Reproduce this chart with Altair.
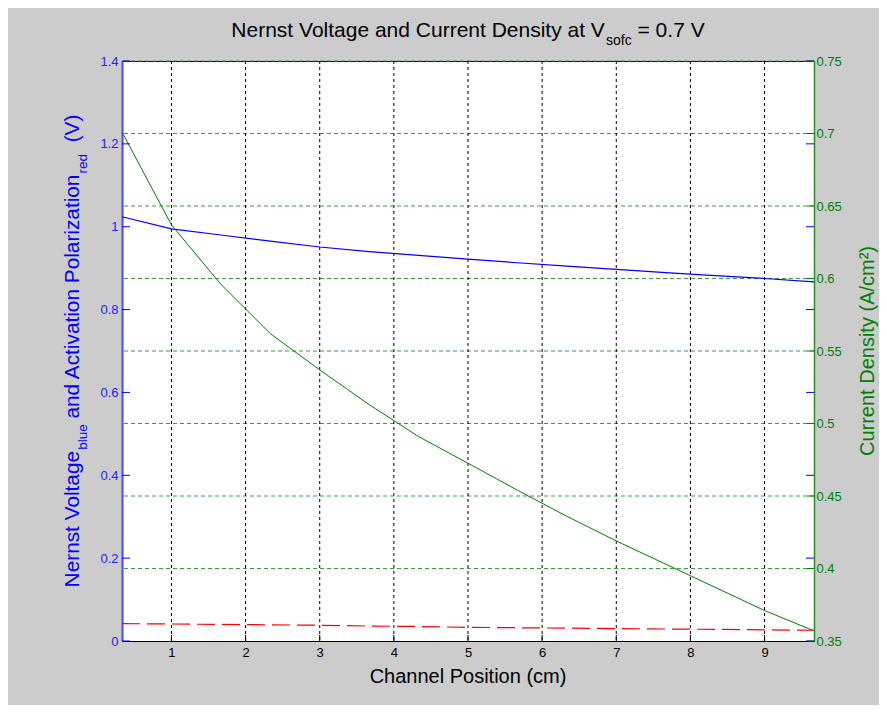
import altair as alt
import pandas as pd

# ---------------- data ----------------
position_cm = [0.333, 1.0, 1.667, 2.333, 3.0, 3.667, 4.333, 5.0, 5.667, 6.333, 7.0, 7.667, 8.333, 9.0, 9.667]
nernst_voltage = [1.024, 0.995, 0.980, 0.965, 0.951, 0.940, 0.931, 0.922, 0.913, 0.905, 0.897, 0.889, 0.882, 0.875, 0.867]
activation_pol = [0.042, 0.041, 0.040, 0.039, 0.038, 0.036, 0.035, 0.033, 0.032, 0.031, 0.030, 0.029, 0.028, 0.027, 0.026]
current_density = [0.701, 0.637, 0.596, 0.562, 0.537, 0.513, 0.491, 0.4726, 0.454, 0.436, 0.419, 0.403, 0.387, 0.371, 0.357]

x_ticks = [1, 2, 3, 4, 5, 6, 7, 8, 9]
left_ticks = [0, 0.2, 0.4, 0.6, 0.8, 1, 1.2, 1.4]
right_ticks = [0.35, 0.4, 0.45, 0.5, 0.55, 0.6, 0.65, 0.7, 0.75]

title_main = "Nernst Voltage and Current Density at V"
title_sub = "sofc"
title_end = "= 0.7 V"
left_parts = ["Nernst Voltage", "blue", "and Activation Polarization", "red", "(V)"]
right_title = "Current Density (A/cm²)"
x_title = "Channel Position (cm)"

# ---------------- layout / style ----------------
FONT = "Liberation Sans"
W, H = 692, 580
BLUE = "#0000ff"
GREEN = "#008000"

# Helvetica/Arial advance widths (per 1000 em) for placing text segments
AW = {' ': 278, '(': 333, ')': 333, '/': 278, '.': 278, '=': 584, 'A': 667, 'C': 722, 'D': 722,
      'N': 722, 'P': 667, 'V': 667, 'a': 556, 'b': 556, 'c': 500, 'd': 556, 'e': 556, 'f': 278,
      'g': 556, 'h': 556, 'i': 222, 'l': 222, 'm': 833, 'n': 556, 'o': 556, 'r': 333, 's': 500,
      't': 278, 'u': 556, 'v': 500, 'y': 500, 'z': 500, '²': 333}


def tw(s, size):
    return sum(AW.get(ch, 556) for ch in s) * size / 1000.0


xs = alt.Scale(domain=[position_cm[0], position_cm[-1]], nice=False, zero=False)
ls = alt.Scale(domain=[0, 1.4], nice=False, zero=False)
rs = alt.Scale(domain=[0.35, 0.75], nice=False, zero=False)

x_axis = alt.Axis(values=x_ticks, format="~g", ticks=False, grid=False, domainColor="black",
                  domainWidth=1, labelColor="black", labelFontSize=13, labelFont=FONT,
                  labelPadding=5, labelOverlap=False, title=None)
left_axis = alt.Axis(orient="left", values=left_ticks, format="~g", ticks=False, grid=False,
                     domainColor="#4a4aff", domainWidth=2, labelColor="#2020ff", labelFontSize=13,
                     labelFont=FONT, labelPadding=4, labelOverlap=False, title=None)
right_axis = alt.Axis(orient="right", values=right_ticks, format="~g", ticks=False, grid=False,
                      domainColor="#2e8b2e", domainWidth=1.5, labelColor=GREEN, labelFontSize=13,
                      labelFont=FONT, labelPadding=2, labelOverlap=False, title=None)

curves = pd.DataFrame({"x": position_cm, "nernst": nernst_voltage,
                       "act": activation_pol, "cur": current_density})
base = alt.Chart(curves)

hgrid = alt.Chart(pd.DataFrame({"v": right_ticks[1:]})).mark_rule(
    color="#3a9f3a", strokeDash=[4, 3], strokeWidth=1).encode(
    y=alt.Y("v:Q", scale=rs, axis=right_axis))
vgrid = alt.Chart(pd.DataFrame({"x": x_ticks})).mark_rule(
    color="black", strokeDash=[3, 3], strokeWidth=1).encode(
    x=alt.X("x:Q", scale=xs, axis=x_axis))

blue_line = base.mark_line(color=BLUE, strokeWidth=1.2).encode(
    x=alt.X("x:Q", scale=xs, axis=x_axis),
    y=alt.Y("nernst:Q", scale=ls, axis=left_axis))
red_line = base.mark_line(color="#ff0000", strokeWidth=1.2, strokeDash=[18, 7]).encode(
    x=alt.X("x:Q", scale=xs, axis=x_axis),
    y=alt.Y("act:Q", scale=ls, axis=None))
green_line = base.mark_line(color=GREEN, strokeWidth=1).encode(
    x=alt.X("x:Q", scale=xs, axis=x_axis),
    y=alt.Y("cur:Q", scale=rs, axis=None))

lt = alt.Chart(pd.DataFrame({"v": left_ticks}))
ltick_l = lt.mark_rule(color=BLUE).encode(y=alt.Y("v:Q", scale=ls, axis=None),
                                          x=alt.value(0), x2=alt.value(8))
ltick_r = lt.mark_rule(color=BLUE).encode(y=alt.Y("v:Q", scale=ls, axis=None),
                                          x=alt.value(W - 8), x2=alt.value(W))
rtick_r = alt.Chart(pd.DataFrame({"v": right_ticks})).mark_rule(color=GREEN).encode(
    y=alt.Y("v:Q", scale=rs, axis=None), x=alt.value(W - 7), x2=alt.value(W))
xtick = alt.Chart(pd.DataFrame({"x": x_ticks})).mark_rule(color="black").encode(
    x=alt.X("x:Q", scale=xs, axis=x_axis), y=alt.value(H - 6), y2=alt.value(H))

one = pd.DataFrame({"a": [0]})


def txt(s, px, py, size, color="black", angle=0, align="left"):
    return alt.Chart(one).mark_text(text=s, font=FONT, fontSize=size, color=color, angle=angle,
                                    align=align, baseline="alphabetic").encode(
        x=alt.value(px), y=alt.value(py))


texts = []
# title
TF, TS = 21, 14
tw1 = tw(title_main, TF)
tw2 = tw(title_sub, TS)
tw3 = tw(" " + title_end, TF)
tx0 = W / 2 - (tw1 + tw2 + tw3) / 2
texts.append(txt(title_main, tx0, -24, TF))
texts.append(txt(title_sub, tx0 + tw1, -16, TS))
texts.append(txt(title_end, tx0 + tw1 + tw2 + tw(" ", TF), -24, TF))

# left title (vertical, bottom to top)
LF, LS = 20.8, 13.5
segs = [(left_parts[0], LF), (left_parts[1], LS), (" " + left_parts[2], LF),
        (left_parts[3], LS), ("  " + left_parts[4], LF)]
widths = [tw(s, f) for s, f in segs]
ypos = H / 2 + sum(widths) / 2
for (s, f), wdt in zip(segs, widths):
    lead = len(s) - len(s.lstrip(" "))
    off = tw(" " * lead, f)
    bx = -35 if f == LS else -43
    texts.append(txt(s.strip(), bx, ypos - off, f, BLUE, 270))
    ypos -= wdt

# right title
texts.append(txt(right_title, W + 60, H / 2, 20, GREEN, 270, "center"))
# x title
texts.append(txt(x_title, W / 2, H + 42, 20, "black", 0, "center"))

chart = alt.layer(
    hgrid, vgrid, blue_line, red_line, green_line, ltick_l, ltick_r, rtick_r, xtick, *texts
).resolve_scale(y="independent").properties(
    width=W, height=H,
    padding={"left": 114, "top": 53, "right": 65, "bottom": 64},
    autosize=alt.AutoSizeParams(type="none"),
    background="#cccccc",
).configure_view(fill="white", stroke="black", strokeWidth=1)

chart.save("out.html", embed_options={"renderer": "svg", "actions": False})
